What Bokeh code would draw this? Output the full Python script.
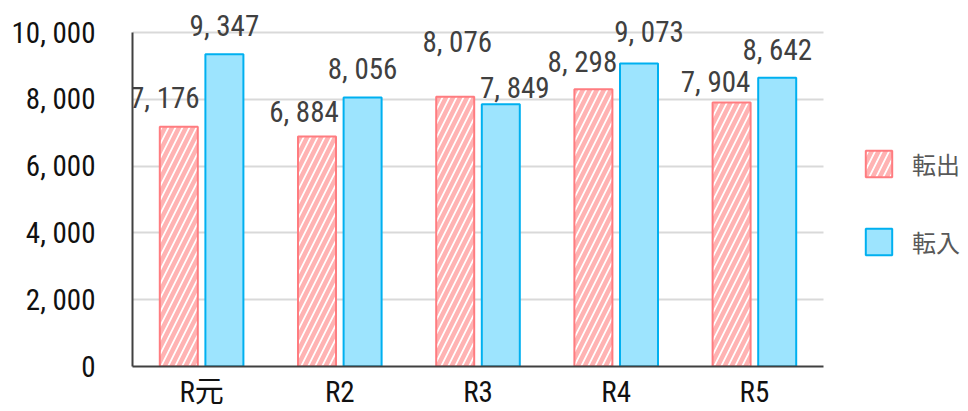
from bokeh.plotting import figure
from bokeh.models import Range1d, FixedTicker, ColumnDataSource, Legend, LegendItem
from bokeh.transform import dodge
from bokeh.core.properties import value
from bokeh.embed import file_html
from bokeh.resources import INLINE

# ---- data ----
categories = ["R元", "R2", "R3", "R4", "R5"]
tenshutsu = [7176, 6884, 8076, 8298, 7904]   # 転出
tennyu = [9347, 8056, 7849, 9073, 8642]      # 転入
series_names = ["転出", "転入"]
y_ticks = [0, 2000, 4000, 6000, 8000, 10000]

# ---- label nudges (screen px, style only) ----
out_dx = [-14, -13, 2, -11, -16]
out_up = [29, 25, 55, 27, 21]
in_dx = [0, 0, 14, 10, 0]
in_up = [28, 28, 16, 31, 28]


def fmt(v):
    return f"{v:,}".replace(",", ", ")


NUM_FONT = "Roboto Condensed, DejaVu Sans Condensed, Roboto, Noto Sans CJK JP"

idx = list(range(len(categories)))
src_out = ColumnDataSource(dict(pos=idx, val=tenshutsu,
                                lab=[fmt(v) for v in tenshutsu],
                                dx=out_dx, dy=[-u for u in out_up]))
src_in = ColumnDataSource(dict(pos=idx, val=tennyu,
                               lab=[fmt(v) for v in tennyu],
                               dx=in_dx, dy=[-u for u in in_up]))

# layout in pixels
W, H = 968, 411
left_px, bottom_px = 132, 45
frame_w, frame_h = W - left_px, H - bottom_px
top_px = 32            # where the top gridline sits
cat_px = 138.2         # width of one category slot
x_start = -0.5
x_end = x_start + frame_w / cat_px
y_end = max(y_ticks) * frame_h / (frame_h - top_px)

p = figure(width=W, height=H, output_backend="svg", toolbar_location=None,
           x_range=Range1d(x_start, x_end), y_range=Range1d(0, y_end),
           min_border_left=left_px, min_border_right=0, min_border_top=0,
           min_border_bottom=bottom_px)
p.outline_line_color = None
p.background_fill_color = "white"
p.border_fill_color = "white"

off = 0.165
bw = 0.275
r_out = p.vbar(x=dodge("pos", -off), top="val", width=bw, source=src_out,
               fill_color="white", line_color="#FF7C80", line_width=2,
               hatch_pattern="/", hatch_color="#FFB3B3", hatch_weight=4.5, hatch_scale=14)
r_in = p.vbar(x=dodge("pos", off), top="val", width=bw, source=src_in,
              fill_color="#9DE4FE", line_color="#00B0F0", line_width=2)

for src, o in ((src_out, -off), (src_in, off)):
    p.text(x=dodge("pos", o), y="val", text="lab", source=src,
           x_offset="dx", y_offset="dy", text_align="center", text_baseline="middle",
           text_font=value(NUM_FONT), text_font_size="29px", text_color="#404040")

x_bounds = (x_start, x_start + len(categories))

# grid
p.xgrid.grid_line_color = None
p.ygrid.grid_line_color = "#D9D9D9"
p.ygrid.grid_line_width = 2
p.ygrid.ticker = FixedTicker(ticks=y_ticks)
g = p.ygrid[0]
if "cross_bounds" in g.properties():
    g.cross_bounds = x_bounds

# y axis
p.yaxis.ticker = FixedTicker(ticks=y_ticks)
p.yaxis.bounds = (0, max(y_ticks))
p.yaxis.major_label_overrides = {t: fmt(t) for t in y_ticks}
p.yaxis.major_label_text_font = NUM_FONT
p.yaxis.major_label_text_font_size = "29px"
p.yaxis.major_label_text_color = "#111111"
p.yaxis.major_label_standoff = 37
p.yaxis.axis_line_color = "#404040"
p.yaxis.axis_line_width = 2
p.yaxis.major_tick_line_color = None
p.yaxis.minor_tick_line_color = None
p.yaxis.major_tick_out = 0
p.yaxis.major_tick_in = 0
p.yaxis.minor_tick_out = 0

# x axis
p.xaxis.ticker = FixedTicker(ticks=idx)
p.xaxis.major_label_overrides = {i: c for i, c in zip(idx, categories)}
p.xaxis.bounds = x_bounds
p.xaxis.major_label_text_font = NUM_FONT
p.xaxis.major_label_text_font_size = "29px"
p.xaxis.major_label_text_color = "#111111"
p.xaxis.major_label_standoff = 8
p.xaxis.axis_line_color = "#404040"
p.xaxis.axis_line_width = 2
p.xaxis.major_tick_line_color = None
p.xaxis.minor_tick_line_color = None
p.xaxis.major_tick_out = 0
p.xaxis.major_tick_in = 0
p.xaxis.minor_tick_out = 0

legend = Legend(items=[LegendItem(label=series_names[0], renderers=[r_out]),
                       LegendItem(label=series_names[1], renderers=[r_in])],
                location=(862 - left_px, frame_h - 259), orientation="vertical",
                glyph_width=33, glyph_height=33, label_height=33, spacing=43,
                label_standoff=17, padding=0, margin=0,
                border_line_color=None, background_fill_alpha=0,
                label_text_font="Noto Sans CJK JP", label_text_font_size="24px",
                label_text_color="#595959")
p.add_layout(legend, "center")

open("out.html", "w").write(file_html(p, INLINE))
